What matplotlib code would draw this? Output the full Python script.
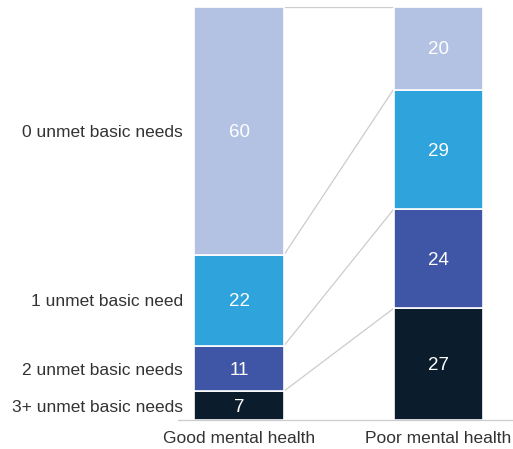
import matplotlib
matplotlib.use('Agg')
import matplotlib.pyplot as plt

groups = ['Good mental health', 'Poor mental health']
categories = ['3+ unmet basic needs', '2 unmet basic needs', '1 unmet basic need', '0 unmet basic needs']
good = [7, 11, 22, 60]
poor = [27, 24, 29, 20]
colors = ['#0B1C2C', '#3F56A6', '#2EA3DC', '#B3C2E3']

plt.rcParams['font.family'] = ['Liberation Sans', 'DejaVu Sans']

W, H = 513, 449
fig = plt.figure(figsize=(W / 100, H / 100), dpi=100)
ax = fig.add_axes([178 / W, (H - 420) / H, (W - 178) / W, 413 / H])

xpos = [0, 1]
bar_w = 0.451
values = [good, poor]

for gi, vals in enumerate(values):
    bottom = 0
    for ci, v in enumerate(vals):
        ax.bar(xpos[gi], v, bottom=bottom, width=bar_w, color=colors[ci],
               edgecolor='white', linewidth=1.2, zorder=2)
        ax.text(xpos[gi], bottom + v / 2 - 0.4, str(v), ha='center', va='center',
                color='white', fontsize=13.5, zorder=3)
        bottom += v

# connector lines between segment boundaries
cum_good = 0
cum_poor = 0
for ci in range(len(categories)):
    cum_good += good[ci]
    cum_poor += poor[ci]
    ax.plot([xpos[0] + bar_w / 2, xpos[1] - bar_w / 2], [cum_good, cum_poor],
            color='#cccccc', linewidth=0.9, zorder=1)

# category labels to the left of the first bar
cum = 0
for ci, cat in enumerate(categories):
    ax.text(xpos[0] - bar_w / 2 - 0.055, cum + good[ci] / 2 - 0.4, cat, ha='right',
            va='center', color='#333333', fontsize=12.5)
    cum += good[ci]

ax.set_xlim(-(239 - 178) / 199.5, (W - 239) / 199.5)
ax.set_ylim(0, 100)
ax.set_xticks(xpos)
ax.set_xticklabels(groups, fontsize=12.5, color='#333333')
ax.tick_params(axis='x', length=0, pad=8)
ax.set_yticks([])
for s in ['top', 'right', 'left']:
    ax.spines[s].set_visible(False)
ax.spines['bottom'].set_color('#cccccc')
ax.spines['bottom'].set_linewidth(0.9)
ax.patch.set_alpha(0)

fig.savefig('out.png', dpi=100)
